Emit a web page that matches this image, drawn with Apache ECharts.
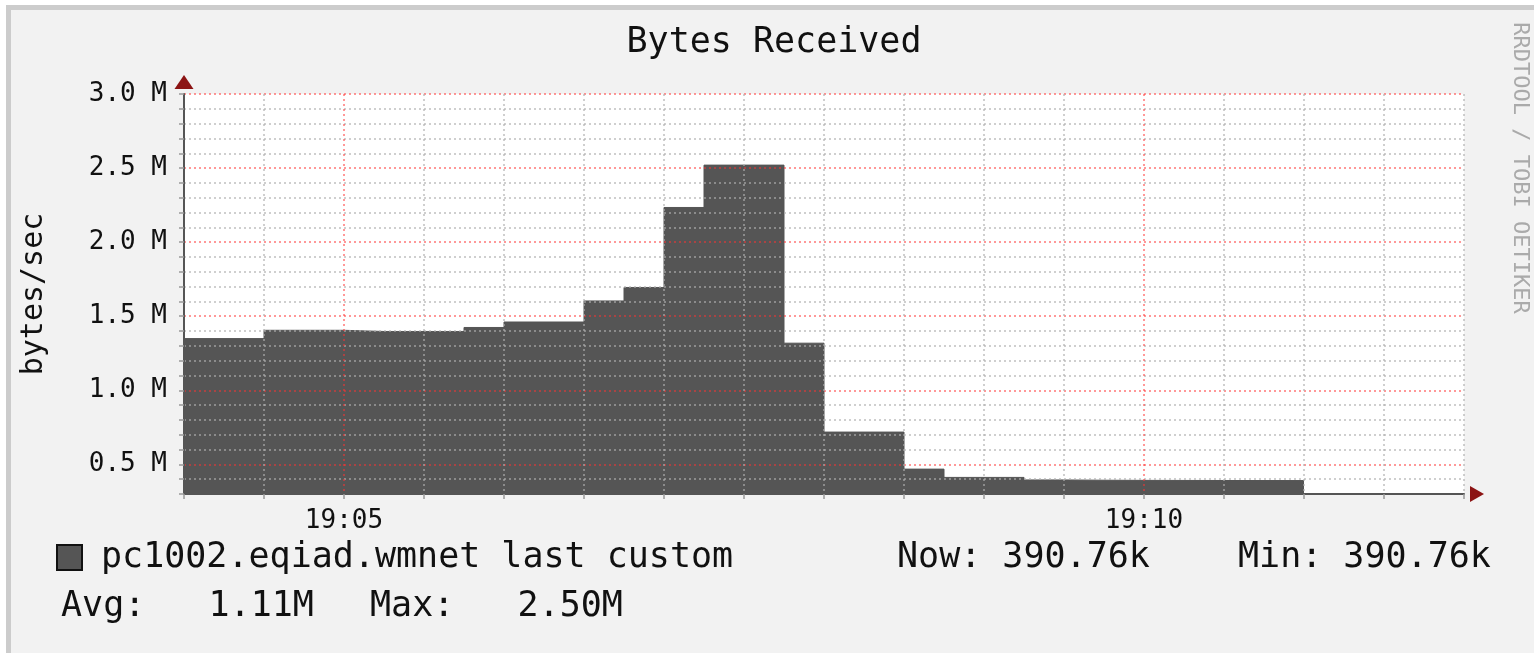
<!DOCTYPE html>
<html>
<head>
<meta charset="utf-8">
<script src="https://cdn.jsdelivr.net/npm/echarts@6/dist/echarts.min.js"></script>
<style>
html,body{margin:0;padding:0;background:#ffffff;}
#chart{width:1534px;height:653px;}
</style>
</head>
<body>
<div id="chart"></div>
<script>
// ---- data ----
const times = [
  '19:04:00','19:04:15','19:04:30','19:04:45',
  '19:05:00','19:05:15','19:05:30','19:05:45',
  '19:06:00','19:06:15','19:06:30','19:06:45',
  '19:07:00','19:07:15','19:07:30','19:07:45',
  '19:08:00','19:08:15','19:08:30','19:08:45',
  '19:09:00','19:09:15','19:09:30','19:09:45',
  '19:10:00','19:10:15','19:10:30','19:10:45',
  '19:11:00'
];
const bytesReceived = [
  1349000, 1349000, 1405000, 1405000,
  1397000, 1397000, 1397000, 1424000,
  1461000, 1461000, 1603000, 1694000,
  2234000, 2520000, 2520000, 1318000,
  718000, 718000, 468000, 412000,
  412000, 395000, 393000, 392000,
  391500, 391200, 390900, 390760,
  390760
];
const xRange = ['19:04:00', '19:12:00'];
const xTickLabels = ['19:05', '19:10'];
const yRange = [300000, 3000000];
const yLabelStep = 500000;

const titleText = 'Bytes Received';
const yAxisName = 'bytes/sec';
const legendName = 'pc1002.eqiad.wmnet last custom';
const legendNow = 'Now: 390.76k';
const legendMin = 'Min: 390.76k';
const legendAvg = 'Avg:   1.11M';
const legendMax = 'Max:   2.50M';
const watermark = 'RRDTOOL / TOBI OETIKER';

// ---- helpers ----
const toSec = s => { const p = s.split(':').map(Number); return p[0]*3600 + p[1]*60 + (p[2] || 0); };
const base = toSec(xRange[0]);
const xLabelSecs = xTickLabels.map(l => toSec(l) - base);
const seriesData = times.map((t, i) => [toSec(t) - base, bytesReceived[i]]);

const MONO = '"DejaVu Sans Mono", "Liberation Mono", monospace';
const GRAY = 'rgba(175,175,175,0.6)';
const RED = 'rgba(255,50,50,0.5)';
const ARROW = '#8c1414';

const chart = echarts.init(document.getElementById('chart'), null, {renderer: 'canvas'});

const option = {
  backgroundColor: '#f2f2f2',
  animation: false,
  grid: [
    {left: 184, top: 94, width: 1280, height: 400, show: true, backgroundColor: '#ffffff', borderWidth: 0, containLabel: false},
    {left: 184, top: 94, width: 1280, height: 400, show: false, containLabel: false}
  ],
  xAxis: [
    {
      type: 'value', gridIndex: 0, z: 3,
      min: 0, max: toSec(xRange[1]) - base, interval: 30,
      axisLine: {show: true, lineStyle: {color: '#555555', width: 2}},
      axisTick: {show: true, length: 5, lineStyle: {color: '#999999', width: 1.5}},
      axisLabel: {
        show: true, margin: 14, color: '#111111', fontFamily: MONO, fontSize: 26,
        formatter: v => { const k = xLabelSecs.indexOf(Math.round(v)); return k >= 0 ? xTickLabels[k] : ''; }
      },
      splitLine: {
        show: true,
        lineStyle: {
          color: [GRAY, GRAY, RED, GRAY, GRAY, GRAY, GRAY, GRAY, GRAY, GRAY],
          width: 2, type: [2, 3]
        }
      }
    },
    {
      type: 'value', gridIndex: 1, z: 4,
      min: 0, max: toSec(xRange[1]) - base, interval: 30,
      axisLine: {show: true, symbol: ['none', 'triangle'], symbolSize: [16, 14], symbolOffset: [0, 13],
                 lineStyle: {color: ARROW, width: 0}},
      axisTick: {show: false}, axisLabel: {show: false}, splitLine: {show: false}
    }
  ],
  yAxis: [
    {
      type: 'value', gridIndex: 0, z: 3,
      min: yRange[0], max: yRange[1], interval: 100000,
      name: yAxisName, nameLocation: 'middle', nameRotate: 90, nameGap: 135,
      nameTextStyle: {color: '#111111', fontFamily: MONO, fontSize: 30},
      axisLine: {show: true, lineStyle: {color: '#555555', width: 2}},
      axisTick: {show: true, length: 5, lineStyle: {color: '#999999', width: 1.5}},
      axisLabel: {
        show: true, margin: 17, color: '#111111', fontFamily: MONO, fontSize: 26,
        formatter: v => { const r = Math.round(v); return r % yLabelStep === 0 ? (r / 1e6).toFixed(1) + ' M' : ''; }
      },
      splitLine: {
        show: true,
        lineStyle: {
          color: [GRAY, GRAY, RED, GRAY, GRAY],
          width: 2, type: [2, 3]
        }
      }
    },
    {
      type: 'value', gridIndex: 1, z: 4,
      min: yRange[0], max: yRange[1], interval: 100000,
      axisLine: {show: true, symbol: ['none', 'triangle'], symbolSize: [19, 14], symbolOffset: [0, 12],
                 lineStyle: {color: ARROW, width: 0}},
      axisTick: {show: false}, axisLabel: {show: false}, splitLine: {show: false}
    }
  ],
  series: [
    {
      name: legendName,
      type: 'line',
      xAxisIndex: 0, yAxisIndex: 0,
      step: 'end',
      symbol: 'none',
      z: 2,
      data: seriesData,
      lineStyle: {color: '#555555', width: 1},
      areaStyle: {color: '#555555', opacity: 1, origin: 'start'}
    }
  ],
  graphic: {
    elements: [
      // outer frame
      {type: 'rect', silent: true, z: -10, shape: {x: 0, y: 0, width: 1534, height: 5}, style: {fill: '#ffffff'}},
      {type: 'rect', silent: true, z: -10, shape: {x: 0, y: 0, width: 6, height: 653}, style: {fill: '#ffffff'}},
      {type: 'rect', silent: true, z: -10, shape: {x: 6, y: 5, width: 1528, height: 5}, style: {fill: '#cccccc'}},
      {type: 'rect', silent: true, z: -10, shape: {x: 6, y: 5, width: 5, height: 648}, style: {fill: '#cccccc'}},
      // title
      {type: 'text', x: 774, y: 43, silent: true,
       style: {text: titleText, fontFamily: MONO, fontSize: 35, fill: '#111111', align: 'center', verticalAlign: 'middle'}},
      // watermark
      {type: 'text', x: 1519.5, y: 168, rotation: -Math.PI / 2, silent: true,
       style: {text: watermark, fontFamily: MONO, fontSize: 22, fill: '#aaaaaa', align: 'center', verticalAlign: 'middle'}},
      // legend
      {type: 'rect', silent: true, shape: {x: 57, y: 545, width: 25, height: 25},
       style: {fill: '#555555', stroke: '#111111', lineWidth: 2}},
      {type: 'text', x: 101, y: 557.6, silent: true,
       style: {text: legendName, fontFamily: MONO, fontSize: 35, fill: '#111111', align: 'left', verticalAlign: 'middle'}},
      {type: 'text', x: 897, y: 557.6, silent: true,
       style: {text: legendNow, fontFamily: MONO, fontSize: 35, fill: '#111111', align: 'left', verticalAlign: 'middle'}},
      {type: 'text', x: 1238, y: 557.6, silent: true,
       style: {text: legendMin, fontFamily: MONO, fontSize: 35, fill: '#111111', align: 'left', verticalAlign: 'middle'}},
      {type: 'text', x: 61, y: 606.6, silent: true,
       style: {text: legendAvg, fontFamily: MONO, fontSize: 35, fill: '#111111', align: 'left', verticalAlign: 'middle'}},
      {type: 'text', x: 370, y: 606.6, silent: true,
       style: {text: legendMax, fontFamily: MONO, fontSize: 35, fill: '#111111', align: 'left', verticalAlign: 'middle'}}
    ]
  }
};

chart.setOption(option);
</script>
</body>
</html>
